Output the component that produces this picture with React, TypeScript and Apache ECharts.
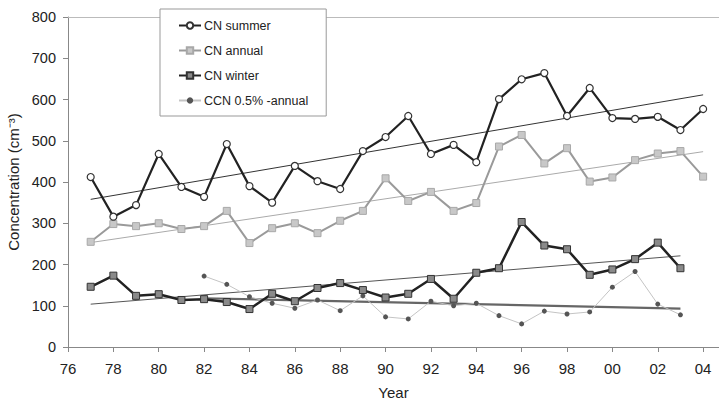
import React, { useEffect, useRef } from "react";
import * as echarts from "echarts";

const years = [1977, 1978, 1979, 1980, 1981, 1982, 1983, 1984, 1985, 1986, 1987, 1988, 1989, 1990, 1991, 1992, 1993, 1994, 1995, 1996, 1997, 1998, 1999, 2000, 2001, 2002, 2003, 2004];
const cnSummer = [412, 316, 344, 468, 388, 364, 492, 390, 350, 439, 402, 383, 475, 509, 560, 468, 490, 448, 601, 649, 664, 560, 628, 555, 553, 558, 526, 577];
const cnAnnual = [255, 298, 293, 300, 286, 293, 330, 252, 288, 300, 276, 306, 330, 409, 354, 376, 330, 349, 486, 514, 445, 482, 401, 411, 453, 469, 475, 413];
const winterYears = years.slice(0, 27);
const cnWinter = [146, 173, 124, 128, 114, 116, 109, 92, 129, 111, 143, 155, 138, 120, 129, 165, 117, 180, 191, 303, 246, 237, 175, 188, 213, 253, 191];
const ccnYears = [1982, 1983, 1984, 1985, 1986, 1987, 1988, 1989, 1990, 1991, 1992, 1993, 1994, 1995, 1996, 1997, 1998, 1999, 2000, 2001, 2002, 2003];
const ccnAnnual = [172, 152, 122, 106, 94, 114, 88, 124, 73, 68, 111, 100, 106, 76, 56, 87, 80, 85, 145, 183, 104, 78];
const xTicks = [1976, 1978, 1980, 1982, 1984, 1986, 1988, 1990, 1992, 1994, 1996, 1998, 2000, 2002, 2004];

function pairs(xs: number[], ys: number[]) {
  return xs.map((x, i) => [x, ys[i]]);
}

function trend(xs: number[], ys: number[]) {
  const n = xs.length;
  const mx = xs.reduce((a, b) => a + b, 0) / n;
  const my = ys.reduce((a, b) => a + b, 0) / n;
  let sxy = 0;
  let sxx = 0;
  for (let i = 0; i < n; i++) {
    sxy += (xs[i] - mx) * (ys[i] - my);
    sxx += (xs[i] - mx) * (xs[i] - mx);
  }
  const b = sxy / sxx;
  const a = my - b * mx;
  const x0 = xs[0];
  const x1 = xs[n - 1];
  return [[x0, a + b * x0], [x1, a + b * x1]];
}

const FONT = "Liberation Sans";

export default function App() {
  const ref = useRef<HTMLDivElement>(null);
  useEffect(() => {
    document.body.style.margin = "0";
    if (!ref.current) return;
    const chart = echarts.init(ref.current, undefined, { renderer: "svg" });
    const trendSeries = (name: string, data: number[][], color: string, width: number) => ({
      name,
      type: "line",
      data,
      symbol: "none",
      silent: true,
      lineStyle: { color, width },
      z: 1,
    });
    chart.setOption({
      animation: false,
      backgroundColor: "#ffffff",
      textStyle: { fontFamily: FONT },
      grid: { left: 68, top: 17, right: 0, bottom: 55, containLabel: false, outerBoundsMode: "none" },
      legend: {
        data: ["CN summer", "CN annual", "CN winter", "CCN 0.5% -annual"],
        orient: "vertical",
        left: 160,
        top: 9,
        itemWidth: 22,
        itemHeight: 8,
        itemGap: 12,
        padding: [10, 18, 9, 18],
        borderColor: "#999999",
        borderWidth: 1,
        backgroundColor: "#ffffff",
        textStyle: { fontFamily: FONT, fontSize: 12.5, color: "#222222", padding: [0, 0, 0, -2] },
      },
      xAxis: [
        {
          type: "value",
          min: 1976,
          max: 2004.7,
          interval: 2,
          name: "Year",
          nameLocation: "middle",
          nameGap: 38,
          nameTextStyle: { fontFamily: FONT, fontSize: 15, color: "#222222" },
          axisLine: { show: true, lineStyle: { color: "#888888", width: 1 } },
          axisTick: { show: true, length: 5, lineStyle: { color: "#888888" }, customValues: xTicks },
          axisLabel: {
            customValues: xTicks,
            fontFamily: FONT,
            fontSize: 15,
            color: "#222222",
            margin: 14,
            formatter: (v: number) => String(v % 100).padStart(2, "0"),
          },
          splitLine: { show: false },
        },
        {
          type: "value",
          position: "top",
          min: 1976,
          max: 2004.7,
          axisLine: { show: true, lineStyle: { color: "#bbbbbb", width: 1 } },
          axisTick: { show: false },
          axisLabel: { show: false },
          splitLine: { show: false },
        },
      ],
      yAxis: {
        type: "value",
        min: 0,
        max: 800,
        interval: 100,
        name: "Concentration (cm⁻³)",
        nameLocation: "middle",
        nameGap: 43,
        nameTextStyle: { fontFamily: FONT, fontSize: 15, color: "#222222" },
        axisLine: { show: true, lineStyle: { color: "#888888", width: 1 } },
        axisTick: { show: true, length: 5, lineStyle: { color: "#888888" } },
        axisLabel: { fontFamily: FONT, fontSize: 14.5, color: "#222222", margin: 12 },
        splitLine: { show: false },
      },
      series: [
        trendSeries("trend summer", trend(years, cnSummer), "#333333", 1),
        trendSeries("trend annual", trend(years, cnAnnual), "#aaaaaa", 1),
        trendSeries("trend winter", trend(winterYears, cnWinter), "#555555", 1),
        trendSeries("trend ccn", trend(ccnYears, ccnAnnual), "#666666", 2.2),
        {
          name: "CCN 0.5% -annual",
          type: "line",
          data: pairs(ccnYears, ccnAnnual),
          symbol: "circle",
          symbolSize: 5,
          itemStyle: { color: "#555555" },
          lineStyle: { color: "#c4c4c4", width: 1 },
          z: 2,
        },
        {
          name: "CN annual",
          type: "line",
          data: pairs(years, cnAnnual),
          symbol: "rect",
          symbolSize: 7,
          itemStyle: { color: "#c8c8c8", borderColor: "#a8a8a8", borderWidth: 1 },
          lineStyle: { color: "#9a9a9a", width: 2 },
          z: 3,
        },
        {
          name: "CN winter",
          type: "line",
          data: pairs(winterYears, cnWinter),
          symbol: "rect",
          symbolSize: 7,
          itemStyle: { color: "#8a8a8a", borderColor: "#333333", borderWidth: 1 },
          lineStyle: { color: "#222222", width: 2.5 },
          z: 3,
        },
        {
          name: "CN summer",
          type: "line",
          data: pairs(years, cnSummer),
          symbol: "circle",
          symbolSize: 7,
          itemStyle: { color: "#ffffff", borderColor: "#333333", borderWidth: 1.2 },
          lineStyle: { color: "#222222", width: 2.2 },
          z: 4,
        },
      ],
    });
    return () => chart.dispose();
  }, []);
  return <div ref={ref} style={{ width: 719, height: 402 }} />;
}
